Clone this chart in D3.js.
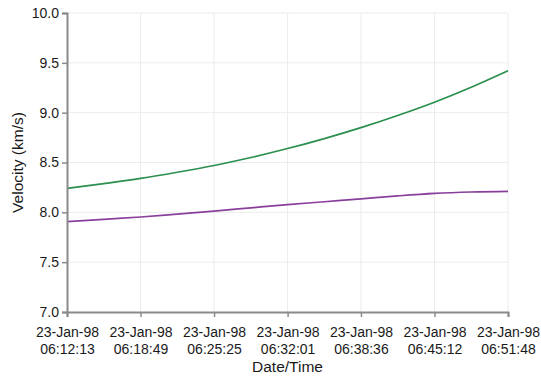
<!DOCTYPE html>
<html>
<head>
<meta charset="utf-8">
<script src="https://cdn.jsdelivr.net/npm/d3@7"></script>
<style>
  html, body { margin: 0; padding: 0; background: #fff; }
  svg { display: block; font-family: "Liberation Sans", Arial, sans-serif; }
</style>
</head>
<body>
<svg id="chart" width="541" height="378"></svg>
<script>
// Sample times (every 3 min 18 s) and velocities for the two series
const times = [
  "06:12:13", "06:15:31", "06:18:49", "06:22:07", "06:25:25", "06:28:43", "06:32:01",
  "06:35:19", "06:38:36", "06:41:54", "06:45:12", "06:48:30", "06:51:48"
];
const greenVelocity = [8.24, 8.288, 8.34, 8.402, 8.47, 8.55, 8.64, 8.74, 8.85, 8.972, 9.105, 9.255, 9.42];
const purpleVelocity = [7.906, 7.93, 7.953, 7.983, 8.013, 8.045, 8.077, 8.106, 8.135, 8.165, 8.19, 8.204, 8.21];
const xTickTimes = ["06:12:13", "06:18:49", "06:25:25", "06:32:01", "06:38:36", "06:45:12", "06:51:48"];
const yTicks = [7.0, 7.5, 8.0, 8.5, 9.0, 9.5, 10.0];
const dateLabel = "23-Jan-98";

const parse = d3.timeParse("%Y-%m-%d %H:%M:%S");
const toDate = t => parse("1998-01-23 " + t);

const margin = { left: 67, right: 33, top: 13, bottom: 66 };
const W = 541, H = 378;
const svg = d3.select("#chart");

const x = d3.scaleTime()
  .domain([toDate(times[0]), toDate(times[times.length - 1])])
  .range([margin.left, W - margin.right]);
const y = d3.scaleLinear()
  .domain([7, 10])
  .range([H - margin.bottom, margin.top]);

// Grid
const grid = svg.append("g").attr("stroke", "#ececec").attr("stroke-width", 1);
grid.selectAll("line.h").data(yTicks.slice(1)).join("line")
  .attr("x1", margin.left).attr("x2", W - margin.right)
  .attr("y1", d => y(d)).attr("y2", d => y(d));
grid.selectAll("line.v").data(xTickTimes.slice(1)).join("line")
  .attr("x1", d => x(toDate(d))).attr("x2", d => x(toDate(d)))
  .attr("y1", margin.top).attr("y2", H - margin.bottom);

// Series
const line = d3.line()
  .x((d, i) => x(toDate(times[i])))
  .y(d => y(d))
  .curve(d3.curveMonotoneX);

svg.append("path").datum(greenVelocity)
  .attr("fill", "none").attr("stroke", "#2b8f4e").attr("stroke-width", 1.7)
  .attr("d", line);
svg.append("path").datum(purpleVelocity)
  .attr("fill", "none").attr("stroke", "#8a3f9c").attr("stroke-width", 1.7)
  .attr("d", line);

// Axes
const axisColor = "#8a8a8a";
const fontSize = 14;
const yAxis = svg.append("g")
  .attr("transform", `translate(${margin.left},0)`)
  .call(d3.axisLeft(y).tickValues(yTicks).tickFormat(d3.format(".1f")).tickSize(5).tickPadding(3));
yAxis.select(".domain").attr("stroke", axisColor).attr("stroke-width", 2);
yAxis.selectAll(".tick line").attr("stroke", axisColor).attr("stroke-width", 1.5);
yAxis.selectAll(".tick text").attr("fill", "#1a1a1a").attr("font-size", fontSize)
  .attr("font-family", "Liberation Sans, Arial, sans-serif");

const xAxis = svg.append("g")
  .attr("transform", `translate(0,${H - margin.bottom})`)
  .call(d3.axisBottom(x).tickValues(xTickTimes.map(toDate)).tickFormat("").tickSize(5));
xAxis.select(".domain").attr("stroke", axisColor).attr("stroke-width", 2);
xAxis.selectAll(".tick line").attr("stroke", axisColor).attr("stroke-width", 1.5);
xAxis.selectAll(".tick").each(function(d) {
  const t = d3.select(this).append("text")
    .attr("fill", "#1a1a1a").attr("font-size", fontSize)
    .attr("text-anchor", "middle")
    .attr("font-family", "Liberation Sans, Arial, sans-serif");
  t.append("tspan").attr("x", 0).attr("y", 25).text(dateLabel);
  t.append("tspan").attr("x", 0).attr("y", 42).text(d3.timeFormat("%H:%M:%S")(d));
});

// Axis titles
svg.append("text")
  .attr("x", (margin.left + W - margin.right) / 2).attr("y", 372)
  .attr("text-anchor", "middle").attr("font-size", 15.5).attr("fill", "#1a1a1a")
  .text("Date/Time");
svg.append("text")
  .attr("transform", `translate(23,${(margin.top + H - margin.bottom) / 2}) rotate(-90)`)
  .attr("text-anchor", "middle").attr("font-size", 15.5).attr("fill", "#1a1a1a")
  .text("Velocity (km/s)");
</script>
</body>
</html>
